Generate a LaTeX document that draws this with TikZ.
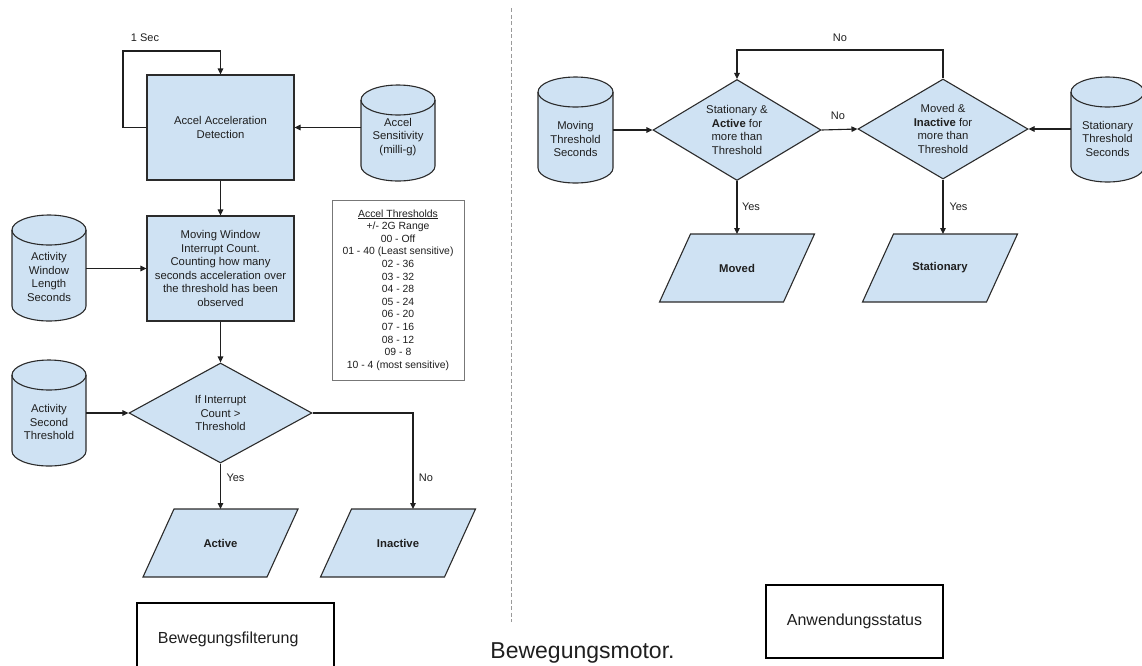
\documentclass[tikz,border=0pt]{standalone}
\usepackage{fontspec}
\setmainfont{Liberation Sans}
\usetikzlibrary{arrows.meta,shapes.geometric,calc}
\definecolor{boxfill}{HTML}{CFE2F3}
\definecolor{edge}{HTML}{2B2B2B}
\definecolor{ink}{HTML}{1F1F1F}
\definecolor{sepgray}{HTML}{9A9A9A}
\definecolor{legendgray}{HTML}{777777}

% cylinder: name, L, R, T, B, text offset, text  (pixel coordinates, y downwards)
\newcommand{\dbcyl}[7]{%
  \pgfmathsetmacro\cylcx{(#2+#3)/2}%
  \pgfmathsetmacro\cylrx{(#3-#2)/2}%
  \pgfmathsetmacro\cylcy{-(#4+#5)/2}%
  \pgfmathsetmacro\cylty{-(#4+#5)/2-#6}%
  \filldraw[shp] (#2,{-(#4+15)}) arc[start angle=180,end angle=0,x radius=\cylrx,y radius=15]
     -- (#3,{-(#5-15)}) arc[start angle=0,end angle=-180,x radius=\cylrx,y radius=15] -- cycle;
  \draw[shp,fill=none] (#2,{-(#4+15)}) arc[start angle=180,end angle=360,x radius=\cylrx,y radius=15];
  \node[inner sep=0pt,outer sep=0pt,minimum width={(#3-#2)*1pt},minimum height={(#5-#4)*1pt}] (#1) at (\cylcx,\cylcy) {};
  \node[txt] (#1-t) at (\cylcx,\cylty) {#7};
}
% parallelogram: name, cx, cy, text
\newcommand{\iopara}[4]{%
  \filldraw[shp] ({#2-46.5},{-#3+34}) -- ({#2+77.5},{-#3+34}) -- ({#2+46.5},{-#3-34}) -- ({#2-77.5},{-#3-34}) -- cycle;
  \node[inner sep=0pt,outer sep=0pt,minimum width=124pt,minimum height=68pt,font=\fontsize{11.3}{13.5}\selectfont\bfseries] (#1) at (#2,-#3) {#4};
}

\begin{document}
\begin{tikzpicture}[x=1pt,y=1pt,
  font=\fontsize{11.3}{13.5}\selectfont, text=ink,
  shp/.style={draw=edge,fill=boxfill,line width=1.1pt},
  txt/.style={align=center,inner sep=0pt},
  procbox/.style={shp,rectangle,align=center,minimum width=147pt,minimum height=105pt,inner sep=2pt},
  decision/.style={shp,diamond,align=center,inner sep=0pt,aspect=1.7},
  arr/.style={draw=ink,line width=1.1pt,-{Triangle[length=6pt,width=5.5pt]}},
  lbl/.style={inner sep=0pt,font=\fontsize{11}{13}\selectfont},
  frame/.style={draw=black,line width=1.8pt,rectangle,fill=white}]

\useasboundingbox (0,0) rectangle (1142,-665);

% ---------------- left part ----------------
\node[procbox] (acc) at (220.5,-127.5) {Accel Acceleration\\Detection};
\node[procbox] (win) at (220.5,-268.5) {Moving Window\\Interrupt Count.\\Counting how many\\seconds acceleration over\\the threshold has been\\observed};
\dbcyl{sens}{361}{435}{85}{181}{4}{Accel\\Sensitivity\\(milli-g)}
\dbcyl{wlen}{12}{86}{215}{321}{9}{Activity\\Window\\Length\\Seconds}
\dbcyl{sthr}{12}{86}{360}{466}{9}{Activity\\Second\\Threshold}
\node[decision,minimum width=183pt,minimum height=100pt] (ifc) at (220.5,-413) {If Interrupt\\Count >\\Threshold};
\iopara{active}{220.5}{543}{Active}
\iopara{inactive}{398}{543}{Inactive}

\node[draw=legendgray,line width=0.8pt,fill=white,minimum width=132pt,minimum height=180pt,
      align=center,inner sep=0pt,font=\fontsize{10.4}{12.6}\selectfont] (legend) at (398,-290)
 {\underline{Accel Thresholds}\\+/- 2G Range\\00 - Off\\01 - 40 (Least sensitive)\\02 - 36\\03 - 32\\04 - 28\\05 - 24\\06 - 20\\07 - 16\\08 - 12\\09 - 8\\10 - 4 (most sensitive)};

\coordinate (loopc) at (123,-51);
\draw[arr] (acc.west) -| (loopc) -| (acc.north);
\node[lbl] (onesec) at (145,-38) {1 Sec};
\draw[arr] (acc.east -| sens.west) -- (acc.east);
\draw[arr] (acc.south) -- (win.north);
\draw[arr] (win.west -| wlen.east) -- (win.west);
\draw[arr] (win.south) -- (ifc.north);
\draw[arr] (ifc.west -| sthr.east) -- (ifc.west);
\draw[arr] (ifc.south) -- (active.north);
\node[lbl] (yes1) at (235.5,-478) {Yes};
\draw[arr] (ifc.east) -| ([xshift=15pt]inactive.north);
\node[lbl] (no1) at (426,-478) {No};

\node[frame,anchor=north west,minimum width=197pt,minimum height=72pt,text width=155pt,
      inner xsep=21pt,align=left,font=\fontsize{16}{19}\selectfont] (filt) at (136,-602) {Bewegungsfilterung};

% ---------------- separator ----------------
\coordinate (septop) at (511.5,-8);
\coordinate (sepbot) at (511.5,-622);
\draw[sepgray,line width=0.9pt,dash pattern=on 4pt off 2.5pt] (septop) -- (sepbot);
\node[anchor=base,inner sep=0pt,font=\fontsize{23}{27}\selectfont] (motor) at (582.5,-658) {Bewegungsmotor.};

% ---------------- right part ----------------
\dbcyl{movthr}{538}{613}{77}{183}{9}{Moving\\Threshold\\Seconds}
\dbcyl{stathr}{1071}{1144}{77}{182}{9}{Stationary\\Threshold\\Seconds}
\node[decision,minimum width=168pt,minimum height=101pt] (dA) at (737,-130) {Stationary \&\\\textbf{Active} for\\more than\\Threshold};
\node[decision,minimum width=170pt,minimum height=100pt] (dB) at (943,-129) {Moved \&\\\textbf{Inactive} for\\more than\\Threshold};
\iopara{moved}{737}{268}{Moved}
\iopara{stat}{940}{268}{Stationary}

\draw[arr] (dA.west -| movthr.east) -- (dA.west);
\draw[arr] (dA.east) -- (dB.west);
\node[lbl] (no2) at (838,-116) {No};
\coordinate (rloop) at (943,-50);
\draw[arr] (dB.north) -- (rloop) -| (dA.north);
\node[lbl] (no3) at (840,-38) {No};
\draw[arr] (dB.east -| stathr.west) -- (dB.east);
\draw[arr] (dA.south) -- (moved.north);
\node[lbl] (yes2) at (751,-207) {Yes};
\draw[arr] (dB.south) -- (dB.south |- stat.north);
\node[lbl] (yes3) at (958.5,-207) {Yes};

\node[frame,minimum width=177pt,minimum height=73pt,font=\fontsize{16}{19}\selectfont] (app) at (854.5,-621.5) {Anwendungsstatus};
\end{tikzpicture}
\end{document}
